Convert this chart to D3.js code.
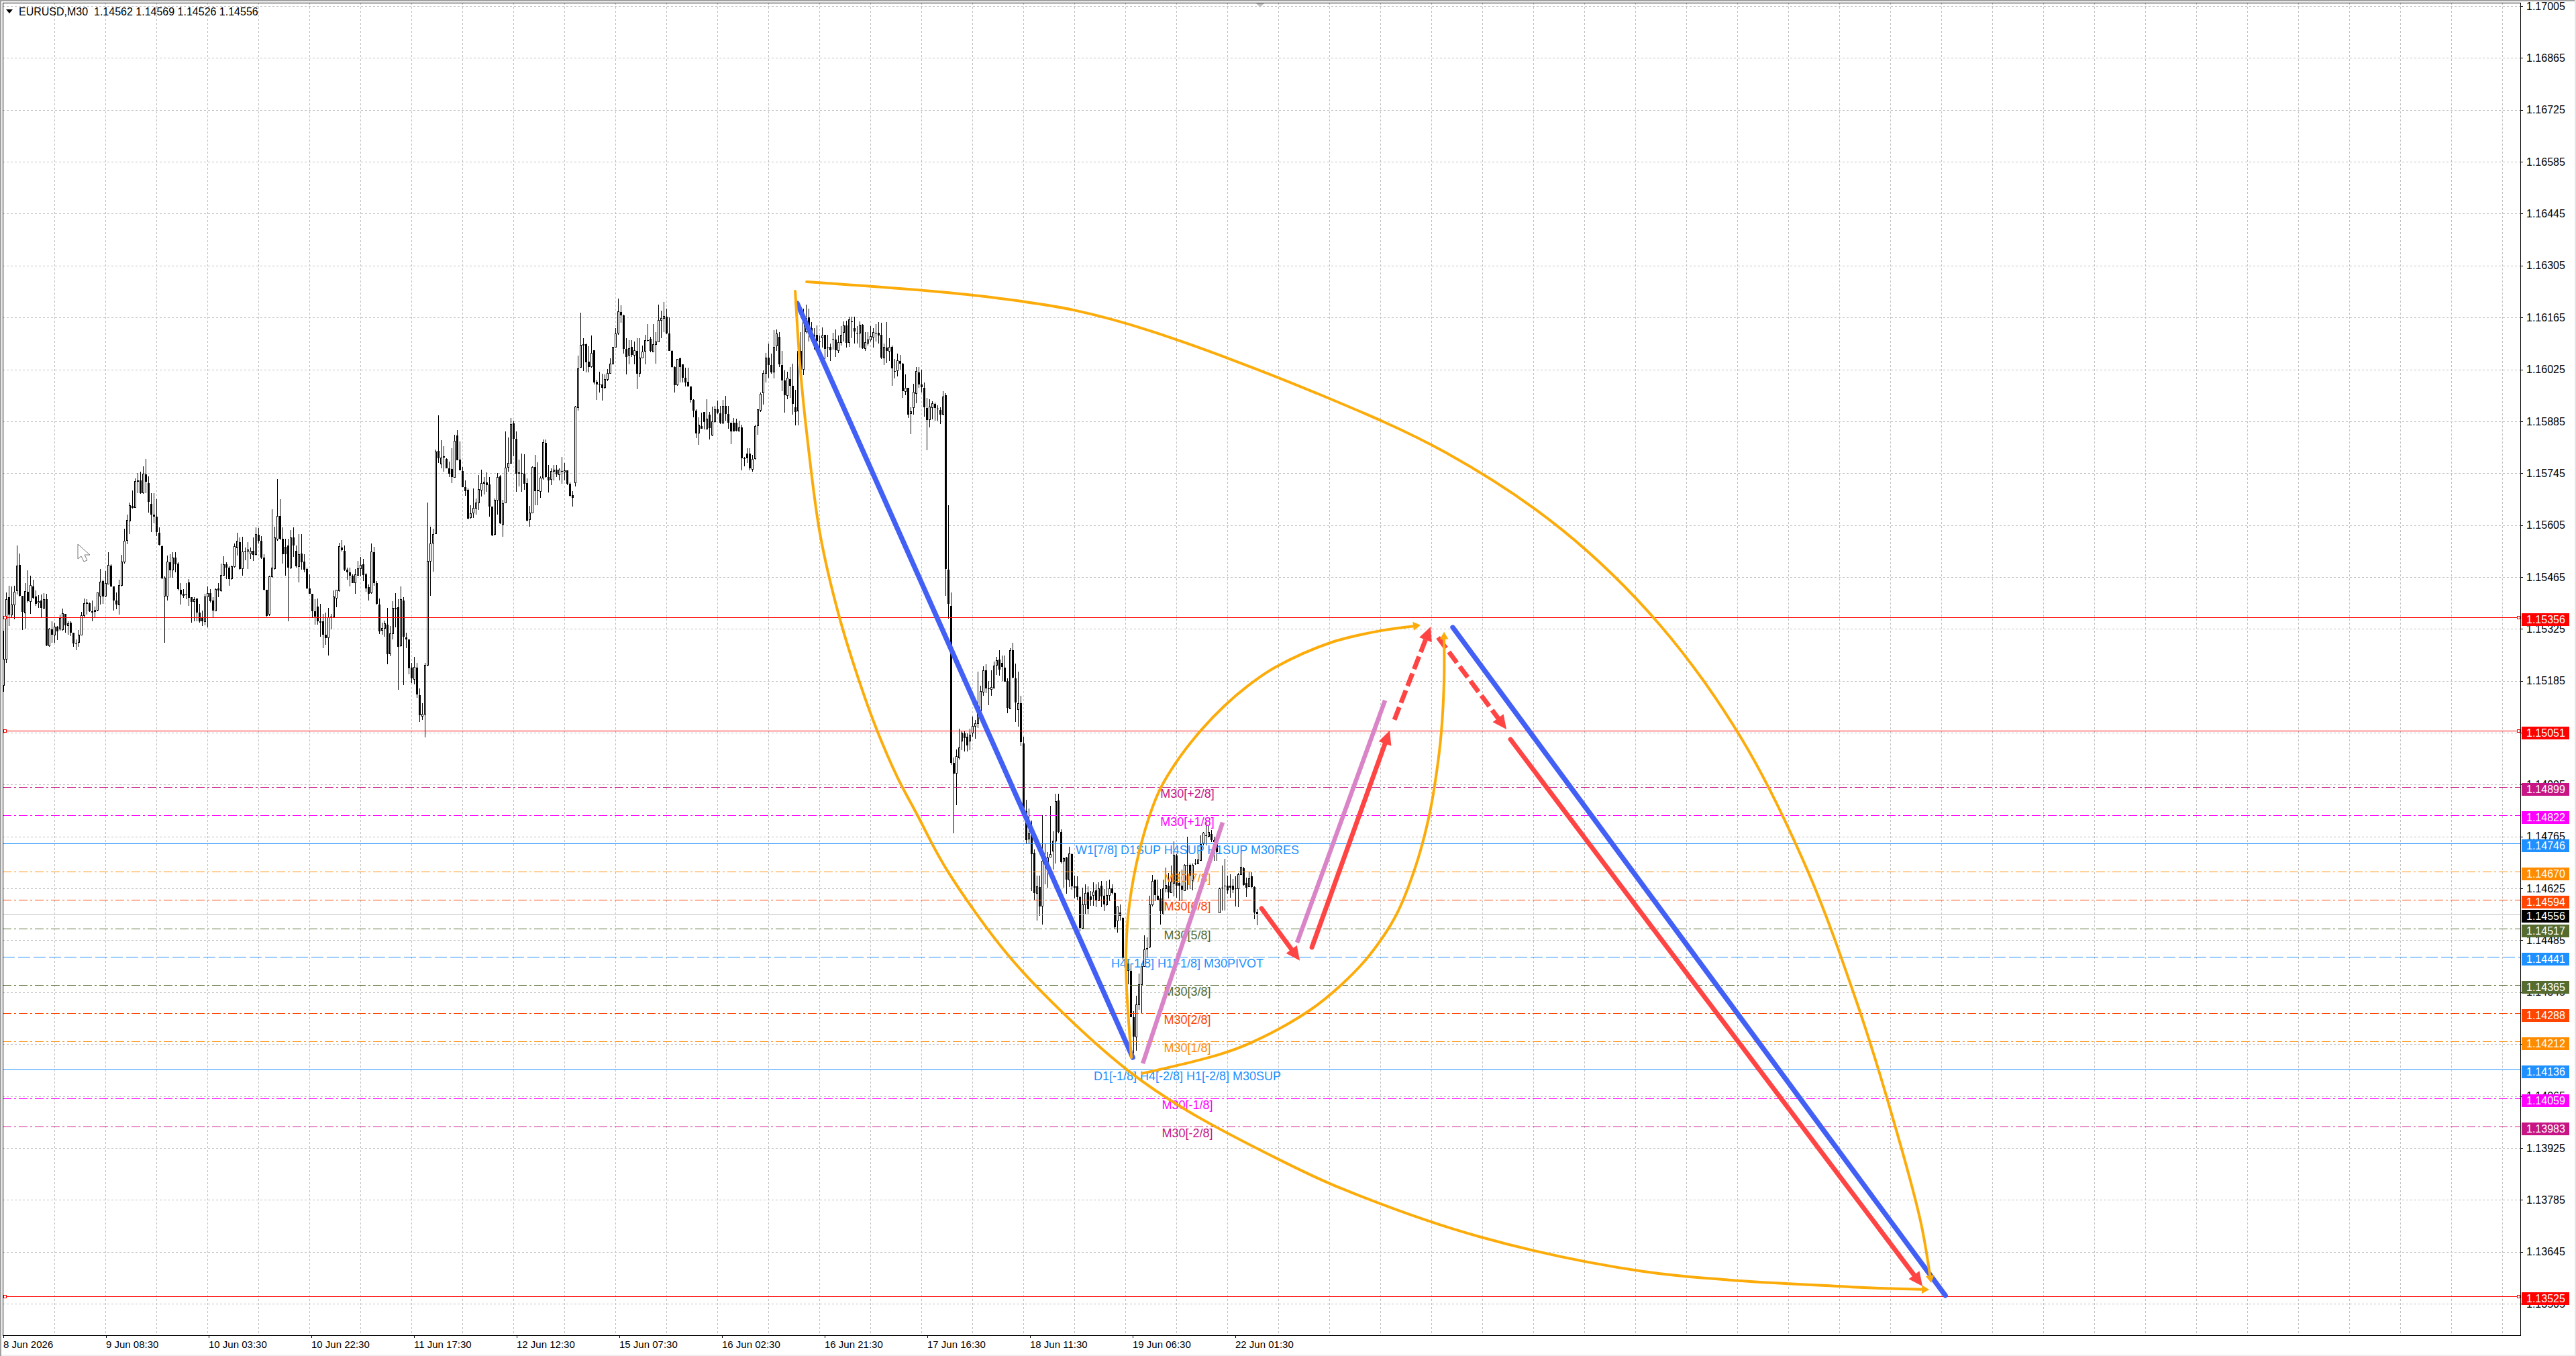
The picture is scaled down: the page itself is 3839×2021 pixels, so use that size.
<!DOCTYPE html>
<html>
<head>
<meta charset="utf-8">
<script src="https://cdn.jsdelivr.net/npm/d3@7"></script>
<style>
  body { margin: 0; background: #fff; }
  svg { display: block; }
  text { font-family: "Liberation Sans", Arial, sans-serif; white-space: pre; }
</style>
</head>
<body>
<svg id="chart"></svg>
<script>
// all prices below are in points, 15356 means 1.15356
var barOpen = [
15173,15244,15411,15363,15390,15428,15498,15414,15369,15426,
15399,15439,15413,15395,15401,15381,15405,15280,15324,15309,
15331,15324,15322,15366,15333,15342,15315,15286,15288,15309,
15360,15393,15394,15372,15372,15375,15414,15454,15413,15446,
15496,15439,15402,15390,15443,15505,15563,15616,15657,15653,
15724,15725,15692,15742,15719,15663,15633,15627,15585,15548,
15413,15414,15505,15484,15517,15501,15431,15419,15417,15451,
15411,15399,15407,15369,15354,15345,15411,15422,15401,15374,
15435,15428,15470,15499,15490,15460,15493,15543,15559,15487,
15535,15535,15527,15535,15525,15579,15563,15517,15431,15364,
15466,15487,15568,15630,15568,15547,15550,15490,15571,15535,
15493,15529,15507,15487,15435,15420,15372,15386,15346,15345,
15309,15302,15356,15358,15408,15428,15545,15536,15484,15478,
15469,15449,15470,15487,15499,15472,15437,15423,15532,15449,
15391,15321,15327,15337,15258,15312,15382,15384,15279,15402,
15302,15296,15220,15189,15220,15147,15089,15095,15227,15508,
15557,15582,15805,15770,15788,15784,15759,15756,15734,15847,
15782,15751,15707,15701,
15625,15637,15651,15664,15700,15717,
15721,15714,15655,15579,15672,15737,15607,15665,15761,15772,
15879,15838,15747,15746,15744,15719,15619,15638,15761,15700,
15696,15731,15827,15734,15728,15750,15755,15741,15750,15749,
15752,15717,15685,15720,15922,16030,16091,16092,16045,16032,
16076,15991,15984,15984,15976,15998,16015,16039,16085,16122,
16180,16171,16081,16063,16085,16063,16074,16015,16056,16074,
16104,16107,16072,16092,16100,16157,16163,16168,16122,16075,
16031,15984,16054,16038,16003,15991,15978,15943,15914,15854,
15873,15910,15864,15902,15848,15883,15917,15907,15880,15926,
15905,15882,15882,15882,15858,15868,15786,15798,15798,15755,
15784,15873,15914,15961,16014,16056,16037,16017,16088,16113,
16036,15996,15955,15999,15980,15923,15913,16074,16025,16126,
16165,16136,16119,16119,16102,16110,16118,16084,16086,16107,
16105,16076,16097,16125,16144,16097,16154,16136,16123,16123,
16145,16082,16095,16105,16112,16124,16123,16118,16056,16084,
16074,16086,16020,16022,16048,16040,15965,15975,15905,15921,
15960,16017,15984,15975,15921,15889,15921,15931,15920,15915,
15903,15955,15485,15388,
14963,14935,14978,15023,15044,15034,
15022,15045,15062,15070,15103,15154,15213,15165,15162,15166,
15227,15242,15233,15221,15184,15110,15267,15192,15108,15124,
15017,14833,14758,14771,14722,14612,14629,14577,14699,14675,
14710,14726,14753,14862,14778,14698,14708,14648,14717,14630,
14630,14601,14518,14581,14615,14604,14607,14620,14592,14633,
14606,14581,14607,14625,14612,14538,14560,14545,14440,14422,
14403,14277,14225,14312,14366,14415,14461,14466,14580,14648,
14606,14598,14556,14625,14633,14613,14639,14714,14640,14632,
14619,14688,14688,14646,14692,14691,14700,14748,14768,14765,
14771,14756,14750,14560,14627,14632,14633,14633,14633,14625,
14625,14663,14679,14639,14630,14657,14628,14562
];
var barHigh = [
15321,15423,15442,15439,15442,15550,15529,15414,15448,15483,
15469,15458,15429,15416,15417,15422,15419,15327,15345,15342,
15333,15363,15380,15366,15345,15345,15315,15297,15322,15371,
15407,15405,15396,15402,15386,15423,15487,15457,15481,15532,
15499,15439,15423,15457,15525,15595,15634,15665,15698,15731,
15746,15749,15764,15784,15736,15692,15692,15674,15598,15550,
15466,15523,15526,15531,15532,15505,15448,15432,15449,15460,
15411,15411,15407,15393,15375,15420,15439,15432,15411,15435,
15448,15502,15521,15505,15493,15496,15556,15584,15571,15574,
15544,15559,15544,15571,15598,15597,15575,15526,15431,15469,
15648,15601,15729,15674,15598,15568,15568,15592,15598,15550,
15580,15580,15526,15490,15472,15420,15405,15407,15393,15366,
15369,15381,15366,15428,15429,15557,15565,15550,15491,15491,
15472,15487,15508,15519,15514,15475,15445,15556,15547,15454,
15407,15342,15348,15381,15333,15399,15422,15405,15440,15411,
15315,15297,15234,15249,15234,15164,15125,15233,15665,15601,
15595,15809,15901,15835,15817,15785,15776,15812,15849,15862,
15830,15762,15725,15704,
15658,15703,15676,15740,15755,15734,
15747,15734,15655,15676,15746,15740,15673,15858,15842,15893,
15887,15858,15782,15798,15797,15731,15657,15764,15794,15774,
15737,15836,15836,15767,15758,15767,15767,15758,15788,15773,
15752,15721,15697,15927,16063,16178,16110,16095,16088,16116,
16077,15997,16019,16014,16011,16026,16054,16086,16137,16216,
16198,16172,16110,16103,16103,16101,16110,16110,16089,16119,
16148,16113,16147,16126,16200,16183,16207,16189,16166,16077,
16033,16053,16056,16038,16029,16029,15979,15945,15917,15896,
15908,15911,15945,15911,15924,15926,15940,15926,15942,15954,
15926,15882,15893,15892,15887,15875,15788,15812,15812,15794,
15875,15917,15963,16023,16069,16095,16068,16131,16133,16126,
16074,16022,16019,16032,16040,15970,16131,16126,16188,16199,
16188,16152,16136,16144,16116,16138,16119,16119,16095,16123,
16133,16116,16142,16154,16157,16168,16168,16168,16142,16154,
16147,16126,16126,16142,16136,16147,16152,16150,16095,16152,
16110,16090,16053,16067,16064,16043,16012,15975,15923,15986,
16032,16032,16025,15989,15949,15944,15939,15936,15929,15923,
15967,15960,15658,15423,
14978,14999,15056,15049,15050,15043,
15056,15088,15080,15210,15172,15224,15230,15185,15213,15237,
15249,15267,15254,15254,15191,15273,15287,15231,15210,15145,
15034,14864,14841,14808,14730,14660,14660,14823,14744,14723,
14847,14779,14880,14880,14785,14708,14711,14738,14720,14660,
14657,14606,14627,14636,14630,14618,14642,14636,14642,14645,
14624,14645,14648,14636,14615,14577,14581,14548,14467,14436,
14422,14294,14336,14395,14422,14499,14494,14606,14662,14648,
14648,14624,14648,14681,14666,14687,14752,14717,14669,14675,
14690,14764,14693,14693,14705,14717,14768,14777,14808,14793,
14783,14765,14759,14627,14687,14705,14660,14663,14651,14657,
14666,14735,14684,14654,14669,14669,14630,14569
];
var barLow = [
15155,15234,15333,15354,15351,15417,15413,15322,15326,15396,
15366,15405,15388,15381,15354,15378,15279,15276,15288,15288,
15294,15320,15321,15315,15309,15306,15276,15267,15276,15309,
15354,15363,15370,15345,15354,15372,15390,15393,15411,15445,
15437,15374,15378,15363,15439,15502,15553,15580,15650,15651,
15692,15690,15690,15692,15638,15586,15610,15575,15550,15460,
15288,15402,15463,15463,15478,15429,15390,15408,15405,15387,
15342,15345,15345,15342,15333,15334,15330,15396,15357,15372,
15411,15426,15469,15460,15442,15457,15490,15523,15484,15469,
15511,15487,15514,15508,15523,15556,15514,15429,15358,15360,
15463,15484,15562,15565,15502,15469,15346,15487,15520,15490,
15451,15484,15478,15432,15420,15357,15336,15336,15303,15273,
15282,15253,15324,15357,15384,15426,15533,15481,15457,15439,
15448,15420,15469,15466,15454,15426,15401,15420,15442,15390,
15312,15309,15303,15230,15252,15297,15330,15161,15276,15173,
15273,15203,15179,15176,15140,15074,15080,15032,15224,15414,
15479,15580,15773,15758,15749,15758,15734,15718,15732,15779,
15752,15707,15683,15621,
15622,15625,15634,15646,15682,15688,
15694,15628,15575,15577,15634,15607,15574,15664,15749,15770,
15791,15694,15709,15694,15700,15616,15601,15637,15658,15658,
15679,15728,15732,15693,15712,15725,15734,15725,15716,15725,
15712,15682,15655,15709,15914,16029,16020,16017,16017,16029,
15984,15943,15963,15940,15972,15993,16014,16038,16083,16119,
16150,16068,16011,16038,16059,16038,15972,16005,16056,16038,
16101,16071,16071,16041,16098,16110,16126,16120,16074,16029,
15963,15981,15990,15990,15978,15978,15936,15896,15839,15822,
15864,15863,15863,15836,15845,15881,15905,15878,15878,15887,
15864,15824,15857,15857,15857,15753,15764,15773,15752,15749,
15782,15848,15911,15930,15990,16002,16014,16001,16074,16032,
15967,15908,15944,15949,15903,15874,15874,15986,16009,16121,
16100,16100,16079,16079,16079,16084,16053,16058,16048,16079,
16058,16069,16090,16100,16084,16086,16110,16095,16095,16084,
16081,16074,16090,16100,16084,16100,16095,16053,16036,16043,
16048,15981,16001,16006,16025,15949,15955,15894,15851,15903,
15934,15975,15963,15897,15807,15869,15890,15887,15887,15877,
15901,15414,15352,14959,
14774,14850,14973,14998,14995,14995,
14998,15034,15028,15058,15100,15144,15151,15120,15145,15166,
15201,15198,15184,15182,15098,15109,15192,15074,15061,15008,
14835,14746,14744,14618,14595,14539,14551,14528,14636,14627,
14708,14675,14692,14774,14693,14627,14610,14628,14621,14598,
14595,14509,14517,14557,14554,14578,14578,14575,14591,14575,
14563,14578,14591,14609,14515,14506,14539,14434,14367,14367,
14277,14180,14187,14298,14287,14415,14437,14464,14577,14591,
14592,14527,14553,14615,14598,14612,14603,14600,14591,14591,
14618,14621,14624,14619,14688,14690,14699,14741,14741,14762,
14750,14699,14699,14559,14566,14566,14610,14600,14612,14577,
14574,14662,14633,14601,14628,14627,14542,14526
];
var barClose = [
15243,15405,15363,15390,15425,15494,15414,15370,15426,15399,
15442,15408,15392,15398,15381,15404,15280,15324,15309,15331,
15318,15354,15367,15334,15340,15314,15285,15284,15309,15360,
15393,15395,15372,15372,15376,15422,15451,15413,15448,15496,
15439,15402,15390,15443,15505,15562,15618,15657,15651,15722,
15725,15692,15742,15722,15668,15634,15627,15587,15551,15461,
15463,15505,15483,15517,15499,15432,15417,15414,15416,15408,
15398,15405,15369,15345,15345,15411,15420,15399,15374,15432,
15428,15470,15499,15490,15460,15493,15547,15561,15487,15533,
15534,15538,15535,15525,15579,15563,15517,15431,15360,15466,
15489,15570,15628,15568,15526,15526,15490,15571,15550,15493,
15526,15505,15484,15435,15420,15372,15358,15345,15342,15309,
15300,15356,15357,15411,15429,15547,15537,15484,15478,15469,
15449,15472,15488,15497,15470,15435,15420,15532,15448,15392,
15318,15327,15339,15256,15312,15380,15378,15277,15404,15303,
15296,15218,15191,15221,15149,15092,15094,15227,15507,15555,
15580,15803,15785,15786,15789,15759,15743,15734,15832,15780,
15752,15707,15696,15622,
15636,15651,15664,15702,15717,15721,
15712,15655,15577,15672,15734,15609,15663,15759,15771,15877,
15838,15744,15743,15743,15716,15617,15638,15761,15697,15696,
15732,15828,15734,15725,15750,15753,15741,15753,15749,15752,
15716,15684,15679,15924,16026,16091,16092,16044,16032,16069,
15990,15985,15983,15975,15998,16015,16039,16085,16121,16181,
16170,16080,16059,16081,16064,16075,16014,16056,16072,16103,
16103,16074,16092,16100,16157,16163,16168,16121,16075,16031,
15983,16053,16032,16002,15990,15979,15943,15913,15852,15874,
15865,15883,15892,15866,15883,15917,15908,15881,15926,15905,
15882,15858,15858,15860,15868,15786,15785,15786,15758,15782,
15872,15917,15958,16015,16056,16037,16017,16084,16121,16038,
15996,15955,16001,15981,15932,15911,16074,16025,16162,16162,
16126,16121,16112,16102,16101,16116,16081,16083,16077,16106,
16076,16097,16118,16142,16097,16159,16153,16128,16122,16144,
16082,16097,16105,16114,16124,16123,16116,16056,16084,16074,
16084,16027,16019,16048,16040,15967,15975,15903,15911,15963,
16019,15984,15977,15923,15889,15923,15932,15921,15919,15903,
15951,15487,15392,14963,
14935,14980,15004,15044,15031,15011,
15039,15063,15069,15103,15157,15213,15165,15164,15168,15226,
15240,15215,15223,15183,15112,15267,15194,15126,15124,15019,
14838,14756,14773,14718,14612,14629,14577,14699,14706,14708,
14717,14753,14859,14778,14695,14706,14648,14719,14630,14627,
14601,14518,14581,14612,14569,14595,14616,14592,14625,14603,
14581,14607,14625,14612,14521,14575,14551,14437,14415,14402,
14277,14225,14312,14366,14415,14460,14464,14581,14645,14607,
14594,14563,14624,14634,14615,14642,14714,14633,14632,14622,
14687,14687,14660,14687,14690,14702,14744,14774,14767,14776,
14755,14750,14723,14624,14626,14631,14619,14627,14622,14624,
14663,14683,14635,14627,14652,14628,14560,14556
];

// axis labels
var priceTicks = d3.range(0, 26).map(function(k) { return 1.17005 - k * 0.0014; });
var timeLabels = ["8 Jun 2026", "9 Jun 08:30", "10 Jun 03:30", "10 Jun 22:30", "11 Jun 17:30", "12 Jun 12:30",
  "15 Jun 07:30", "16 Jun 02:30", "16 Jun 21:30", "17 Jun 16:30", "18 Jun 11:30", "19 Jun 06:30", "22 Jun 01:30"];

// horizontal levels and their price tags
var levelPrices = [15356, 15051, 14899, 14822, 14746, 14670, 14594, 14556, 14517, 14441, 14365, 14288, 14212, 14136, 14059, 13983, 13525];
var levelColors = ["#ff0000", "#ff0000", "#c71585", "#ff00ff", "#1e90ff", "#ff8c00", "#ff4500", "#000000", "#556b2f", "#1e90ff", "#556b2f", "#ff4500", "#ff8c00", "#1e90ff", "#ff00ff", "#c71585", "#ff0000"];
var levelStyles = ["solid", "solid", "dashdot", "dashdot", "solid", "dashdot", "dashdot", "bid", "dashdot", "dash", "dashdot", "dashdot", "dashdot", "solid", "dashdot", "dashdot", "solid"];

// murrey math labels, sitting just under their level
var labelTexts = ["M30[+2/8]", "M30[+1/8]", "W1[7/8] D1SUP H4SUP H1SUP M30RES", "M30[7/8]", "M30[6/8]", "M30[5/8]",
  "H4[-1/8] H1[-1/8] M30PIVOT", "M30[3/8]", "M30[2/8]", "M30[1/8]", "D1[-1/8] H4[-2/8] H1[-2/8] M30SUP", "M30[-1/8]", "M30[-2/8]"];
var labelPrices = [14899, 14822, 14746, 14670, 14594, 14517, 14441, 14365, 14288, 14212, 14136, 14059, 13983];
var labelColors = ["#c71585", "#ff00ff", "#1e90ff", "#ff8c00", "#ff4500", "#556b2f", "#1e90ff", "#556b2f", "#ff4500", "#ff8c00", "#1e90ff", "#ff00ff", "#c71585"];
var labelBar = 441;

// drawn legs, [bar, price]
var blueLegs = [
  [[295.65, 16203], [420.65, 14169]],
  [[539.9, 15329], [723.4, 13527]]
];
var pinkLegs = [
  [[424.4, 14153], [454.15, 14803]],
  [[481.9, 14479], [514.65, 15132]]
];
var redArrows = [
  [[468.65, 14571], [482.9, 14430]],
  [[487.4, 14466], [516.4, 15051]],
  [[561.4, 15027], [714.9, 13552]]
];
var redDashedArrows = [
  [[518.15, 15080], [531.65, 15331]],
  [[534.4, 15302], [559.9, 15054]]
];
var orangeArcs = [
  [[299.15, 16261], [348.65, 16234], [373.65, 16214], [398.65, 16185], [427.15, 16129], [488.4, 15963], [537.4, 15800], [580.15, 15595], [616.9, 15337],
   [647.65, 15027], [672.15, 14672], [690.4, 14318], [702.65, 14035], [714.15, 13728], [718.15, 13561]],
  [[294.9, 16236], [296.9, 16017], [299.4, 15840], [304.15, 15581], [311.15, 15362], [319.4, 15170], [325.4, 15051],
   [332.9, 14926], [340.4, 14823], [351.15, 14678], [373.65, 14450], [394.4, 14291], [419.4, 14131], [440.4, 14028],
   [475.4, 13893], [498.65, 13815], [549.65, 13686], [610.9, 13592], [688.65, 13550], [717.4, 13543]],
  [[420.15, 14169], [418.4, 14354], [418.15, 14457], [419.4, 14582], [423.65, 14741], [430.4, 14886], [437.4, 14971],
   [446.15, 15052], [454.9, 15118], [463.65, 15172], [473.65, 15221], [494.4, 15288], [512.9, 15320], [527.9, 15335]],
  [[424.15, 14126], [452.9, 14177], [465.4, 14211], [486.15, 14294], [498.65, 14367], [508.65, 14443], [518.65, 14551],
   [526.15, 14687], [531.15, 14823], [533.9, 14940], [535.65, 15049], [536.65, 15188], [536.65, 15317]]
];

// dimensions
var svgWidth = 3839;
var svgHeight = 2021;
var plot = { left: 4, top: 4, right: 3756, bottom: 1990 };

var svg = d3.select("#chart")
  .attr("width", svgWidth)
  .attr("height", svgHeight);

function toPrice(p) { return 1 + p / 100000; }

var xScale = d3.scaleLinear().domain([0, 467]).range([5.5, 1873.5]);
var yScale = d3.scaleLinear().domain([1.17005, 1.13505]).range([9, 1943]);
var timeScale = d3.scalePoint().domain(timeLabels).range([4.5, 1840.5]);

function px(p) { return [xScale(p[0]), yScale(toPrice(p[1]))]; }

// window edges
svg.append("rect").attr("width", svgWidth).attr("height", svgHeight).attr("fill", "#fff");
svg.append("rect").attr("width", svgWidth).attr("height", 2).attr("fill", "#a0a0a0");
svg.append("rect").attr("y", 2019).attr("width", svgWidth).attr("height", 2).attr("fill", "#f0f0f0");
svg.append("rect").attr("x", 3837).attr("width", 2).attr("height", svgHeight).attr("fill", "#e4e4e4");
svg.append("rect").attr("width", 2).attr("height", svgHeight).attr("fill", "#a0a0a0");

// grid
var grid = svg.append("g")
  .attr("stroke", "#c0c0c0")
  .attr("stroke-dasharray", "3 3")
  .attr("shape-rendering", "crispEdges");

grid.selectAll(".h")
  .data(priceTicks)
  .enter()
  .append("line")
  .attr("x1", plot.left)
  .attr("x2", plot.right)
  .attr("y1", d => Math.round(yScale(d)) + 0.5)
  .attr("y2", d => Math.round(yScale(d)) + 0.5);

grid.selectAll(".v")
  .data(d3.range(19, 3756, 19).filter(d => xScale(d) < plot.right))
  .enter()
  .append("line")
  .attr("x1", d => xScale(d))
  .attr("x2", d => xScale(d))
  .attr("y1", plot.top)
  .attr("y2", plot.bottom);

// candles
var bars = barOpen.map(function(o, i) {
  return { i: i, o: o, h: barHigh[i], l: barLow[i], c: barClose[i] };
});

var candles = svg.append("g").attr("shape-rendering", "crispEdges");

candles.selectAll(".wick")
  .data(bars)
  .enter()
  .append("line")
  .attr("x1", d => xScale(d.i))
  .attr("x2", d => xScale(d.i))
  .attr("y1", d => yScale(toPrice(d.h)))
  .attr("y2", d => yScale(toPrice(d.l)))
  .attr("stroke", "#000");

candles.selectAll(".body")
  .data(bars)
  .enter()
  .append("rect")
  .attr("x", d => d.c < d.o ? xScale(d.i) - 1.5 : xScale(d.i) - 1)
  .attr("width", d => d.c < d.o ? 3 : 2)
  .attr("y", d => yScale(toPrice(Math.max(d.o, d.c))))
  .attr("height", d => Math.max(1, Math.abs(yScale(toPrice(d.o)) - yScale(toPrice(d.c)))))
  .attr("fill", d => d.c < d.o ? "#000" : "#fff")
  .attr("stroke", d => d.c < d.o ? "none" : "#000");

// levels
var dashes = { solid: null, bid: null, dashdot: "13 4 3 4", dash: "18 5" };

svg.append("g")
  .attr("shape-rendering", "crispEdges")
  .selectAll("line")
  .data(levelPrices)
  .enter()
  .append("line")
  .attr("x1", plot.left)
  .attr("x2", plot.right)
  .attr("y1", d => Math.round(yScale(toPrice(d))) + 0.5)
  .attr("y2", d => Math.round(yScale(toPrice(d))) + 0.5)
  .attr("stroke", (d, i) => levelStyles[i] == "bid" ? "#c0c0c0" : levelColors[i])
  .attr("stroke-dasharray", (d, i) => dashes[levelStyles[i]]);

// little anchor squares on the red levels
var anchors = levelPrices.filter((d, i) => levelColors[i] == "#ff0000");
[7, 3753].forEach(function(x) {
  svg.append("g").selectAll("rect")
    .data(anchors)
    .enter()
    .append("rect")
    .attr("x", x - 2)
    .attr("y", d => Math.round(yScale(toPrice(d))) - 2)
    .attr("width", 4)
    .attr("height", 4)
    .attr("fill", "#fff")
    .attr("stroke", "#ff0000")
    .attr("shape-rendering", "crispEdges");
});

// level labels
svg.append("g")
  .selectAll("text")
  .data(labelTexts)
  .enter()
  .append("text")
  .attr("x", xScale(labelBar))
  .attr("y", (d, i) => yScale(toPrice(labelPrices[i])) + 10)
  .attr("text-anchor", "middle")
  .attr("dominant-baseline", "central")
  .attr("font-size", 18)
  .attr("fill", (d, i) => labelColors[i])
  .text(d => d);

// straight legs
function drawLeg(leg, color, width, cap) {
  var a = px(leg[0]), b = px(leg[1]);
  svg.append("line")
    .attr("x1", a[0]).attr("y1", a[1])
    .attr("x2", b[0]).attr("y2", b[1])
    .attr("stroke", color)
    .attr("stroke-width", width)
    .attr("stroke-linecap", cap);
}

function headPoints(tip, from, len, wid) {
  var dx = tip[0] - from[0], dy = tip[1] - from[1];
  var n = Math.sqrt(dx * dx + dy * dy);
  dx /= n; dy /= n;
  var bx = tip[0] - dx * len, by = tip[1] - dy * len;
  return {
    base: [bx, by],
    dir: [dx, dy],
    poly: [tip, [bx - dy * wid / 2, by + dx * wid / 2], [bx + dy * wid / 2, by - dx * wid / 2]]
  };
}

function drawHead(head, color) {
  svg.append("polygon")
    .attr("points", head.poly.map(p => p.join(",")).join(" "))
    .attr("fill", color);
}

function drawArrow(leg, color, dash) {
  var a = px(leg[0]), b = px(leg[1]);
  var head = headPoints(b, a, 21, 20);
  svg.append("line")
    .attr("x1", a[0]).attr("y1", a[1])
    .attr("x2", head.base[0] + head.dir[0] * 2).attr("y2", head.base[1] + head.dir[1] * 2)
    .attr("stroke", color)
    .attr("stroke-width", 7)
    .attr("stroke-linecap", dash ? "butt" : "round")
    .attr("stroke-dasharray", dash);
  drawHead(head, color);
}

blueLegs.forEach(d => drawLeg(d, "#4260f5", 7.5, "round"));
pinkLegs.forEach(d => drawLeg(d, "#da84c8", 6.5, "butt"));
redArrows.forEach(d => drawArrow(d, "#ff4444"));
redDashedArrows.forEach(d => drawArrow(d, "#ff4444", "20 7"));

// curved legs
var arcLine = d3.line().curve(d3.curveCatmullRom.alpha(0.5));

orangeArcs.forEach(function(arc) {
  var pts = arc.map(px);
  var tip = pts[pts.length - 1];
  var head = headPoints(tip, pts[pts.length - 2], 11, 13);
  pts[pts.length - 1] = [head.base[0] + head.dir[0], head.base[1] + head.dir[1]];
  svg.append("path")
    .attr("d", arcLine(pts))
    .attr("fill", "none")
    .attr("stroke", "#fcac0a")
    .attr("stroke-width", 4)
    .attr("stroke-linecap", "round");
  drawHead(head, "#fcac0a");
});

// price axis
var priceAxis = d3.axisRight(yScale)
  .tickValues(priceTicks)
  .tickFormat(d3.format(".5f"))
  .tickSize(4)
  .tickPadding(5);

var priceGroup = svg.append("g")
  .attr("transform", `translate(${plot.right}, 0)`)
  .call(priceAxis);
priceGroup.select(".domain").remove();
priceGroup.selectAll("text").attr("font-size", 16).attr("font-family", "Liberation Sans").attr("fill", "#000");
priceGroup.selectAll("line").attr("stroke", "#000").attr("shape-rendering", "crispEdges");

// price tags
var tags = svg.append("g").selectAll("g")
  .data(levelPrices)
  .enter()
  .append("g")
  .attr("transform", d => `translate(3758, ${Math.round(yScale(toPrice(d)))})`);

tags.append("rect")
  .attr("y", -6)
  .attr("width", 71)
  .attr("height", 19)
  .attr("fill", (d, i) => levelColors[i]);

tags.append("text")
  .attr("x", 7)
  .attr("y", 3.5)
  .attr("dominant-baseline", "central")
  .attr("font-size", 16)
  .attr("fill", "#fff")
  .text(d => d3.format(".5f")(toPrice(d)));

// time axis
var timeAxis = d3.axisBottom(timeScale).tickSize(4).tickPadding(4);

var timeGroup = svg.append("g")
  .attr("transform", `translate(0, ${plot.bottom})`)
  .call(timeAxis);
timeGroup.select(".domain").remove();
timeGroup.selectAll("text").attr("text-anchor", "start").attr("font-size", 15).attr("font-family", "Liberation Sans").attr("fill", "#000");
timeGroup.selectAll("line").attr("stroke", "#000").attr("shape-rendering", "crispEdges");

// frame
svg.append("rect")
  .attr("x", plot.left + 0.5)
  .attr("y", plot.top + 0.5)
  .attr("width", plot.right - plot.left)
  .attr("height", plot.bottom - plot.top)
  .attr("fill", "none")
  .attr("stroke", "#000")
  .attr("shape-rendering", "crispEdges");

// header
svg.append("polygon")
  .attr("points", "9,14 19,14 14,20")
  .attr("fill", "#000");
svg.append("text")
  .attr("x", 28)
  .attr("y", 17)
  .attr("dominant-baseline", "central")
  .attr("font-size", 16)
  .text("EURUSD,M30  1.14562 1.14569 1.14526 1.14556");

// small shift marker on the top edge and the stray mouse pointer
svg.append("polygon")
  .attr("points", "1872,5 1884,5 1878,11")
  .attr("fill", "#c0c0c0");
svg.append("path")
  .attr("transform", "translate(116, 811)")
  .attr("d", "M0,0 L0,22 L5,18 L9,26 L14,24 L10,16 L18,16 Z")
  .attr("fill", "#fff")
  .attr("stroke", "#777");
</script>
</body>
</html>
